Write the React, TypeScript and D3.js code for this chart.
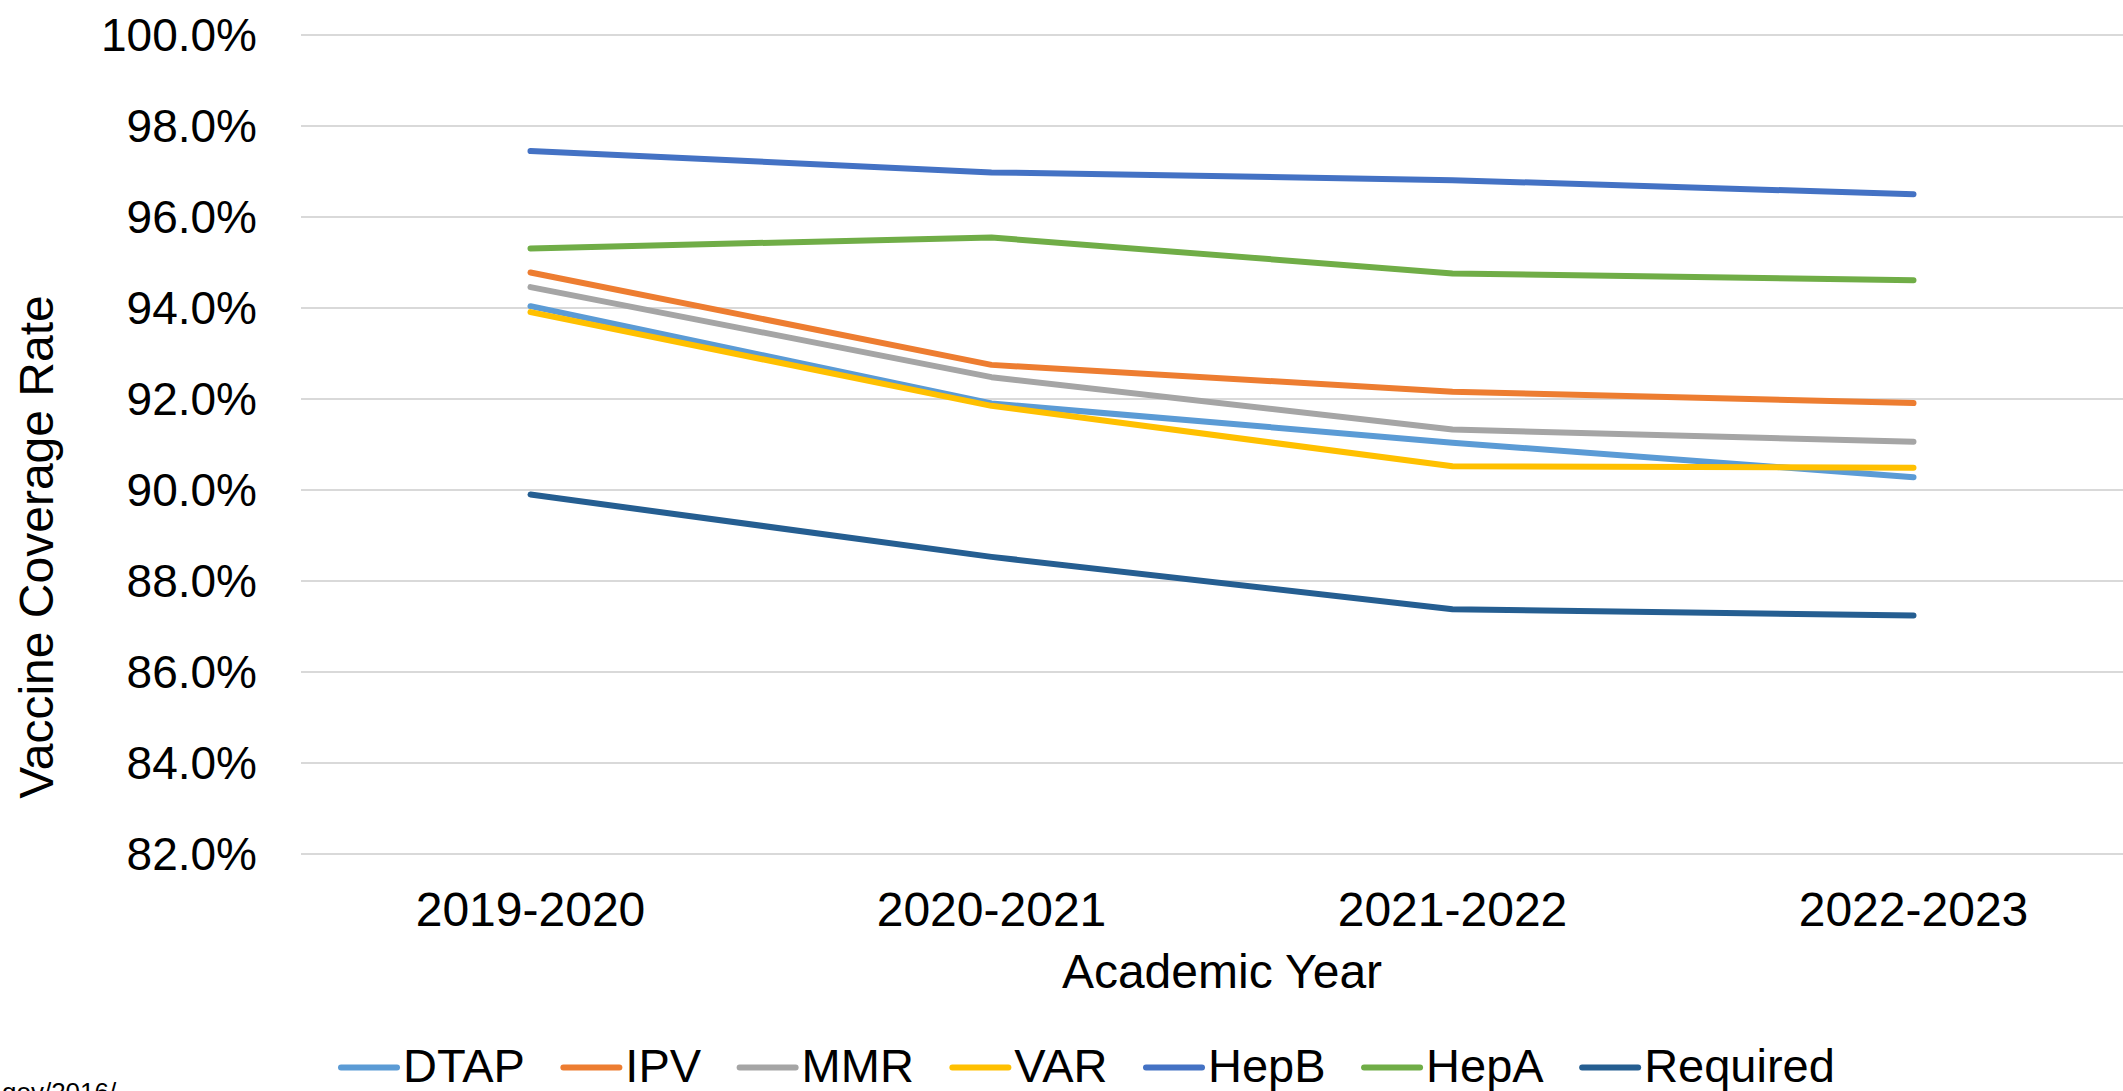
import React from "react";
import * as d3 from "d3";

const years = ["2019-2020", "2020-2021", "2021-2022", "2022-2023"];
const seriesNames = ["DTAP", "IPV", "MMR", "VAR", "HepB", "HepA", "Required"];
const dtap = [94.04, 91.9, 91.04, 90.28];
const ipv = [94.78, 92.75, 92.16, 91.91];
const mmr = [94.46, 92.48, 91.33, 91.06];
const varV = [93.91, 91.85, 90.52, 90.49];
const hepB = [97.45, 96.98, 96.81, 96.5];
const hepA = [95.31, 95.55, 94.76, 94.61];
const required = [89.9, 88.53, 87.38, 87.24];
const seriesValues = [dtap, ipv, mmr, varV, hepB, hepA, required];
const colors = ["#5B9BD5", "#ED7D31", "#A5A5A5", "#FFC000", "#4472C4", "#70AD47", "#255E91"];
const yTicks = [82, 84, 86, 88, 90, 92, 94, 96, 98, 100];

const W = 2123;
const H = 1091;
const FONT = "'Liberation Sans', Arial, sans-serif";

function measure(text: string, size: number): number {
  try {
    const c = document.createElement("canvas").getContext("2d");
    if (c) {
      c.font = `${size}px 'Liberation Sans', Arial, sans-serif`;
      return c.measureText(text).width;
    }
  } catch (e) {}
  return text.length * size * 0.6;
}

export default function App() {
  const x = d3.scalePoint<string>().domain(years).range([300, 2144]).padding(0.5);
  const y = d3.scaleLinear().domain([82, 100]).range([854, 35]);
  const line = d3
    .line<number>()
    .x((_, i) => x(years[i]) as number)
    .y((d) => y(d));

  // legend layout
  const legFont = 47;
  const lineLen = 56;
  const textGap = 6;
  const itemGap = 38.5;
  let cursor = 341;
  const legendItems = seriesNames.map((name, i) => {
    const x0 = cursor;
    const w = measure(name, legFont);
    cursor = x0 + lineLen + textGap + w + itemGap;
    return { name, x0, color: colors[i] };
  });

  return (
    <svg
      width={W}
      height={H}
      style={{ position: "absolute", left: 0, top: 0, background: "#fff" }}
      fontFamily={FONT}
    >
      <rect x={0} y={0} width={W} height={H} fill="#fff" />
      {/* gridlines */}
      {yTicks.map((t) => (
        <line key={t} x1={301} x2={2144} y1={y(t)} y2={y(t)} stroke="#D9D9D9" strokeWidth={2} />
      ))}
      {/* y tick labels */}
      {yTicks.map((t) => (
        <text
          key={"l" + t}
          x={257}
          y={y(t)}
          dy="0.35em"
          textAnchor="end"
          fontSize={46}
          fill="#000"
        >
          {d3.format(".1f")(t) + "%"}
        </text>
      ))}
      {/* x tick labels */}
      {years.map((yr) => (
        <text key={yr} x={x(yr)} y={926} textAnchor="middle" fontSize={48} fill="#000">
          {yr}
        </text>
      ))}
      {/* axis titles */}
      <text x={1222} y={988} textAnchor="middle" fontSize={48} fill="#000">
        Academic Year
      </text>
      <text
        transform="translate(53,547) rotate(-90)"
        textAnchor="middle"
        fontSize={48}
        fill="#000"
      >
        Vaccine Coverage Rate
      </text>
      {/* series lines */}
      {seriesValues.map((vals, i) => (
        <path
          key={seriesNames[i]}
          d={line(vals) || ""}
          fill="none"
          stroke={colors[i]}
          strokeWidth={6}
          strokeLinecap="round"
          strokeLinejoin="round"
        />
      ))}
      {/* legend */}
      {legendItems.map((it) => (
        <g key={it.name}>
          <line
            x1={it.x0}
            x2={it.x0 + lineLen}
            y1={1067.5}
            y2={1067.5}
            stroke={it.color}
            strokeWidth={6}
            strokeLinecap="round"
          />
          <text x={it.x0 + lineLen + textGap} y={1082} fontSize={legFont} fill="#000">
            {it.name}
          </text>
        </g>
      ))}
      {/* cut-off source text, as in the reference */}
      <text x={2} y={1101} fontSize={26} fill="#000">
        gov/2016/
      </text>
    </svg>
  );
}
